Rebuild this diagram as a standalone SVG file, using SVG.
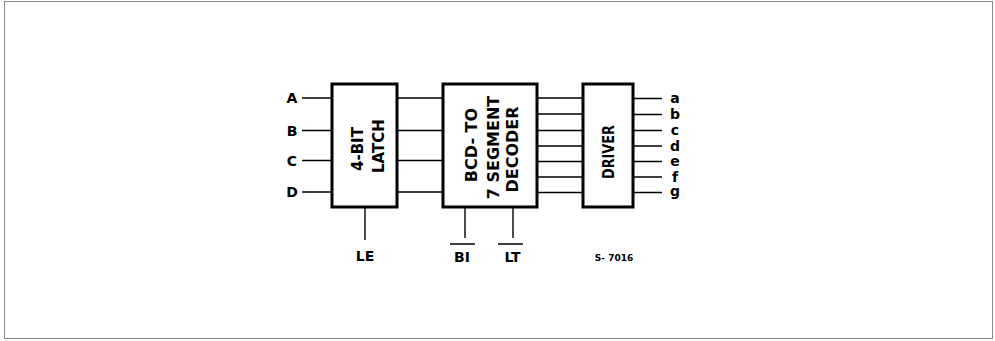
<svg xmlns="http://www.w3.org/2000/svg" width="995" height="341" viewBox="0 0 995 341">
<style>
.box{fill:#fff;stroke:#000;stroke-width:3}
.w{stroke:#000;stroke-width:1.4;fill:none}
.t{font-family:"DejaVu Sans","Liberation Sans",sans-serif;fill:#000;font-weight:bold}
.lbl{font-size:14px}
.seg{font-size:14px}
.in{font-size:16px}
.lt{font-size:15px}
</style>
<rect x="0" y="0" width="995" height="341" fill="#fff"/>
<rect x="4.5" y="1.5" width="988" height="337" fill="none" stroke="#888" stroke-width="1"/>
<g id="connectors">
<path class="w" d="M302 98H332M302 130.5H332M302 160.5H332M302 192H332"/>
<path class="w" d="M397 98H443M397 130.5H443M397 160.5H443M397 192H443"/>
<path class="w" d="M537 98H583M537 114H583M537 130.5H583M537 146H583M537 161.5H583M537 177H583M537 192.5H583"/>
<path class="w" d="M633 98.5H662M633 114.5H662M633 130.5H662M633 146H662M633 161.5H662M633 177H662M633 192.5H662"/>
<path class="w" d="M365 208V240M465 208V238M513 208V238"/>
<path class="w" d="M450 244H475M498 244H523"/>
</g>
<g id="latch">
<rect class="box" x="332" y="84" width="65" height="123"/>
<text class="t lt" transform="translate(362.5,171) rotate(-90)">4-BIT</text>
<text class="t lt" transform="translate(383.5,173) rotate(-90)">LATCH</text>
</g>
<g id="decoder">
<rect class="box" x="443" y="84" width="94" height="123"/>
<text class="t in" transform="translate(476.5,145) rotate(-90)" text-anchor="middle">BCD- TO</text>
<text class="t in" transform="translate(498.5,147.5) rotate(-90)" text-anchor="middle">7 SEGMENT</text>
<text class="t in" transform="translate(518,149.5) rotate(-90)" text-anchor="middle">DECODER</text>
</g>
<g id="driver">
<rect class="box" x="583" y="84" width="50" height="123"/>
<text class="t lt" transform="translate(614,152) rotate(-90)" text-anchor="middle" textLength="54" lengthAdjust="spacingAndGlyphs">DRIVER</text>
</g>
<g id="inputs">
<text class="t lbl" x="292" y="103" text-anchor="middle">A</text>
<text class="t lbl" x="292" y="135.5" text-anchor="middle">B</text>
<text class="t lbl" x="292" y="165.5" text-anchor="middle">C</text>
<text class="t lbl" x="292" y="197" text-anchor="middle">D</text>
</g>
<g id="outputs">
<text class="t seg" x="675" y="103" text-anchor="middle">a</text>
<text class="t seg" x="675" y="119" text-anchor="middle">b</text>
<text class="t seg" x="675" y="135" text-anchor="middle">c</text>
<text class="t seg" x="675" y="150.5" text-anchor="middle">d</text>
<text class="t seg" x="675" y="166" text-anchor="middle">e</text>
<text class="t seg" x="675" y="181.5" text-anchor="middle">f</text>
<text class="t seg" x="675" y="196" text-anchor="middle">g</text>
</g>
<g id="controls">
<text class="t lbl" x="365" y="261" text-anchor="middle">LE</text>
<text class="t lbl" x="462" y="262" text-anchor="middle">BI</text>
<text class="t lbl" x="512.5" y="262" text-anchor="middle">LT</text>
</g>
<text class="t" x="614" y="261" text-anchor="middle" font-size="9" font-weight="normal">S- 7016</text>
</svg>
